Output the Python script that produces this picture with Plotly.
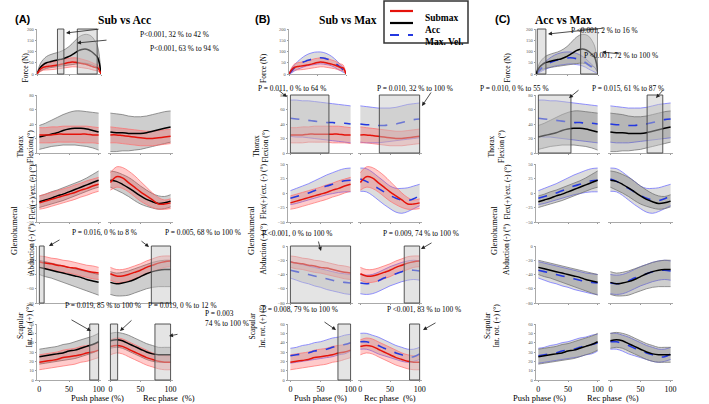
import plotly.graph_objects as go

# percent of phase
PCT = list(range(0, 101, 10))
PCT_F = list(range(0, 101, 5))

# each series: (mean, upper SD, lower SD)
# --- force (N), push phase only
FORCE_SUB = ([0, 20, 30, 33, 35, 37, 39, 41, 44, 48, 51, 53, 52, 50, 47, 44, 40, 35, 30, 27, 0],
             [0, 30, 45, 50, 52, 54, 56, 60, 64, 68, 70, 72, 72, 70, 66, 62, 58, 52, 45, 40, 0],
             [0, 10, 17, 18, 19, 20, 22, 24, 26, 28, 30, 32, 32, 30, 28, 26, 24, 20, 16, 14, 0])
FORCE_ACC = ([0, 28, 42, 50, 54, 58, 61, 64, 67, 72, 78, 86, 95, 104, 109, 111, 108, 100, 88, 72, 0],
             [0, 45, 65, 78, 85, 90, 94, 98, 104, 112, 122, 135, 150, 163, 172, 176, 175, 168, 150, 120, 0],
             [0, 12, 20, 25, 28, 30, 32, 34, 36, 38, 40, 42, 44, 46, 48, 48, 46, 42, 36, 28, 0])
FORCE_MAX = ([0, 15, 28, 38, 46, 53, 58, 62, 66, 69, 71, 72, 71, 68, 64, 58, 50, 40, 30, 18, 5],
             [0, 25, 42, 55, 66, 76, 84, 90, 94, 97, 98, 98, 96, 92, 86, 78, 68, 56, 42, 28, 8],
             [0, 6, 14, 21, 26, 31, 35, 38, 40, 42, 44, 45, 44, 42, 40, 36, 30, 22, 15, 8, 2])

# --- thorax flexion (deg)
THX_SUB_PUSH = ([25, 25, 25, 26, 26, 26, 26, 26, 26, 25, 25],
                [35, 35, 36, 36, 37, 37, 37, 37, 37, 36, 35],
                [14, 14, 14, 15, 15, 15, 15, 14, 14, 14, 13])
THX_SUB_REC = ([25, 25, 24, 23, 22, 21, 20, 20, 21, 22, 23],
               [36, 35, 34, 33, 32, 31, 30, 30, 31, 32, 33],
               [14, 14, 13, 12, 11, 10, 10, 10, 11, 12, 13])
THX_ACC_PUSH = ([22, 24, 26, 28, 31, 33, 34, 34, 33, 31, 29],
                [38, 41, 45, 49, 53, 56, 58, 58, 57, 56, 55],
                [5, 7, 9, 10, 11, 11, 11, 10, 9, 7, 4])
THX_ACC_REC = ([29, 28, 28, 27, 27, 27, 28, 30, 32, 34, 36],
               [55, 54, 53, 51, 50, 50, 51, 53, 55, 57, 58],
               [2, 2, 3, 3, 4, 5, 7, 9, 11, 13, 15])
THX_MAX_PUSH = ([48, 47, 46, 45, 44, 43, 42, 42, 41, 41, 40],
                [73, 73, 72, 72, 71, 70, 69, 68, 67, 66, 65],
                [23, 22, 22, 21, 20, 19, 18, 17, 16, 15, 14])
THX_MAX_REC = ([40, 39, 39, 38, 38, 39, 40, 42, 44, 46, 47],
               [65, 64, 63, 62, 62, 62, 63, 65, 67, 68, 69],
               [15, 14, 14, 14, 15, 16, 17, 18, 19, 20, 21])

# --- glenohumeral flexion(+)/extension(-) (deg)
FLX_SUB_PUSH = ([-17, -14, -11, -8, -5, -2, 1, 5, 8, 12, 15],
                [-5, -2, 1, 4, 7, 10, 14, 17, 21, 24, 27],
                [-28, -26, -23, -20, -17, -14, -11, -7, -4, 0, 3])
FLX_SUB_REC = ([18, 28, 26, 18, 10, 2, -5, -12, -19, -19, -17],
               [35, 45, 44, 38, 30, 20, 10, 0, -8, -12, -10],
               [5, 10, 8, 2, -6, -14, -20, -25, -28, -28, -27])
FLX_ACC_PUSH = ([-15, -12, -9, -5, -2, 2, 6, 10, 14, 18, 22],
                [-5, -2, 2, 5, 9, 13, 17, 21, 26, 32, 38],
                [-25, -22, -19, -16, -13, -9, -5, -1, 3, 7, 10])
FLX_ACC_REC = ([22, 20, 15, 9, 2, -5, -11, -15, -18, -17, -14],
               [38, 36, 32, 27, 20, 12, 5, -1, -5, -6, -3],
               [10, 5, 0, -6, -13, -19, -23, -26, -28, -27, -24])
FLX_MAX_PUSH = ([-9, -6, -3, 0, 4, 8, 12, 15, 18, 21, 22],
                [4, 8, 12, 16, 21, 26, 31, 35, 39, 42, 43],
                [-20, -18, -15, -12, -9, -6, -3, -1, 1, 2, 2])
FLX_MAX_REC = ([24, 20, 14, 8, 2, -4, -9, -12, -13, -10, -4],
               [43, 42, 36, 28, 20, 12, 8, 8, 9, 12, 15],
               [3, 2, -4, -12, -20, -27, -33, -35, -32, -27, -22])

# --- glenohumeral abduction(-) (deg)
ABD_SUB_PUSH = ([-22, -24, -25, -27, -28, -30, -31, -33, -35, -37, -38],
                [-14, -15, -17, -18, -20, -21, -23, -25, -27, -28, -30],
                [-30, -32, -33, -35, -37, -38, -40, -42, -44, -46, -47])
ABD_SUB_REC = ([-39, -42, -42, -40, -37, -34, -30, -27, -24, -22, -21],
               [-30, -33, -33, -31, -28, -25, -21, -18, -15, -14, -14],
               [-48, -51, -51, -49, -46, -43, -39, -36, -33, -30, -29])
ABD_ACC_PUSH = ([-30, -32, -34, -36, -38, -40, -42, -44, -47, -49, -51],
                [-20, -22, -24, -26, -28, -30, -32, -34, -36, -38, -40],
                [-40, -43, -45, -48, -51, -54, -57, -60, -63, -66, -69])
ABD_ACC_REC = ([-51, -53, -52, -50, -47, -43, -39, -36, -34, -33, -33],
               [-36, -38, -37, -35, -32, -29, -26, -23, -21, -20, -20],
               [-68, -70, -70, -69, -66, -63, -60, -58, -57, -57, -57])
ABD_MAX_PUSH = ([-34, -36, -38, -40, -42, -44, -46, -48, -50, -51, -52],
                [-22, -24, -26, -28, -30, -32, -34, -36, -38, -39, -40],
                [-45, -48, -51, -53, -56, -58, -61, -63, -65, -67, -68])
ABD_MAX_REC = ([-52, -53, -52, -49, -45, -42, -39, -36, -34, -34, -35],
               [-40, -41, -40, -37, -33, -29, -26, -23, -21, -20, -21],
               [-67, -68, -67, -64, -60, -56, -53, -50, -48, -47, -48])

# --- scapular internal rotation(+) (deg)
SCP_SUB_PUSH = ([19, 20, 21, 22, 24, 25, 26, 27, 29, 30, 32],
                [27, 28, 29, 30, 32, 33, 34, 36, 37, 38, 40],
                [11, 12, 13, 14, 15, 16, 17, 19, 20, 22, 24])
SCP_SUB_REC = ([36, 37, 36, 33, 30, 27, 24, 22, 20, 19, 19],
               [43, 45, 44, 41, 38, 35, 32, 29, 27, 26, 26],
               [27, 29, 28, 25, 22, 19, 16, 14, 12, 11, 11])
SCP_ACC_PUSH = ([25, 26, 27, 28, 29, 31, 32, 34, 36, 38, 41],
                [33, 34, 35, 36, 38, 39, 41, 43, 45, 47, 50],
                [17, 18, 19, 20, 21, 22, 23, 25, 27, 29, 32])
SCP_ACC_REC = ([42, 43, 42, 39, 36, 33, 30, 28, 27, 27, 27],
               [50, 51, 50, 48, 45, 42, 39, 37, 35, 35, 35],
               [34, 35, 34, 31, 28, 25, 22, 20, 19, 19, 19])
SCP_MAX_PUSH = ([26, 27, 28, 29, 31, 32, 33, 35, 37, 38, 40],
                [34, 35, 37, 38, 40, 41, 43, 45, 46, 48, 49],
                [18, 19, 20, 21, 22, 23, 24, 25, 27, 28, 31])
SCP_MAX_REC = ([41, 41, 39, 37, 34, 32, 29, 27, 25, 25, 28],
               [50, 50, 48, 46, 43, 40, 37, 35, 33, 33, 35],
               [33, 33, 31, 28, 26, 24, 22, 20, 19, 20, 22])

SERIES = {
    ('force', 'sub', 'push'): FORCE_SUB, ('force', 'acc', 'push'): FORCE_ACC,
    ('force', 'max', 'push'): FORCE_MAX,
    ('thx', 'sub', 'push'): THX_SUB_PUSH, ('thx', 'sub', 'rec'): THX_SUB_REC,
    ('thx', 'acc', 'push'): THX_ACC_PUSH, ('thx', 'acc', 'rec'): THX_ACC_REC,
    ('thx', 'max', 'push'): THX_MAX_PUSH, ('thx', 'max', 'rec'): THX_MAX_REC,
    ('flex', 'sub', 'push'): FLX_SUB_PUSH, ('flex', 'sub', 'rec'): FLX_SUB_REC,
    ('flex', 'acc', 'push'): FLX_ACC_PUSH, ('flex', 'acc', 'rec'): FLX_ACC_REC,
    ('flex', 'max', 'push'): FLX_MAX_PUSH, ('flex', 'max', 'rec'): FLX_MAX_REC,
    ('abd', 'sub', 'push'): ABD_SUB_PUSH, ('abd', 'sub', 'rec'): ABD_SUB_REC,
    ('abd', 'acc', 'push'): ABD_ACC_PUSH, ('abd', 'acc', 'rec'): ABD_ACC_REC,
    ('abd', 'max', 'push'): ABD_MAX_PUSH, ('abd', 'max', 'rec'): ABD_MAX_REC,
    ('scap', 'sub', 'push'): SCP_SUB_PUSH, ('scap', 'sub', 'rec'): SCP_SUB_REC,
    ('scap', 'acc', 'push'): SCP_ACC_PUSH, ('scap', 'acc', 'rec'): SCP_ACC_REC,
    ('scap', 'max', 'push'): SCP_MAX_PUSH, ('scap', 'max', 'rec'): SCP_MAX_REC,
}

# significant regions (SPM): panel, variable, phase, start %, end %
SIG = [
    ('A', 'force', 'push', 32, 42), ('A', 'force', 'push', 63, 94),
    ('A', 'abd', 'push', 0, 8), ('A', 'abd', 'rec', 68, 100),
    ('A', 'scap', 'push', 85, 100), ('A', 'scap', 'rec', 0, 12), ('A', 'scap', 'rec', 74, 100),
    ('B', 'thx', 'push', 0, 64), ('B', 'thx', 'rec', 32, 100),
    ('B', 'abd', 'push', 0, 100), ('B', 'abd', 'rec', 74, 100),
    ('B', 'scap', 'push', 79, 100), ('B', 'scap', 'rec', 83, 100),
    ('C', 'force', 'push', 2, 16), ('C', 'force', 'push', 72, 100),
    ('C', 'thx', 'push', 0, 55), ('C', 'thx', 'rec', 61, 87),
]

# p-value labels: text, text centre (px), arrow tail (px), arrow head (px)
PLABELS = [
    ('P<0.001, 32 % to 42 %', (138, 28), (100, 29), (66, 33)),
    ('P<0.001, 63 % to 94 %', (148, 42), (108, 40), (77, 43)),
    ('P = 0.016, 0 % to 8 %', (70, 233), (61, 239), (49, 246)),
    ('P = 0.005, 68 % to 100 %', (163, 233), (140, 240), (149, 247)),
    ('P = 0.019, 85 % to 100 %', (63, 312), (70, 319), (91, 331)),
    ('P = 0.019, 0 % to 12 %', (146, 312), (133, 319), (120, 331)),
    ('P = 0.003<br>74 % to 100 %', (203, 330), (179, 334), (169, 336)),
    ('P = 0.011, 0 % to 64 %', (292, 82), (277, 89), (287, 97)),
    ('P = 0.010, 32 % to 100 %', (415, 82), (432, 91), (422, 106)),
    ('P <0.001, 0 % to 100 %', (297, 234), (318, 240), (321, 251)),
    ('P = 0.009, 74 % to 100 %', (421, 234), (433, 242), (421, 249)),
    ('P = 0.008, 79 % to 100 %', (300, 316), (323, 321), (336, 330)),
    ('P <0.001, 83 % to 100 %', (424, 316), (437, 322), (423, 330)),
    ('P <0.001, 2 % to 16 %', (640, 24), (605, 28), (548, 34)),
    ('P <0.001, 72 % to 100 %', (660, 49), (621, 54), (602, 52)),
    ('P = 0.010, 0 % to 55 %', (551, 82), (580, 89), (569, 98)),
    ('P = 0.015, 61 % to 87 %', (666, 82), (664, 89), (656, 98)),
]

W, H = 709, 404
SERIF = 'Liberation Serif'


def px(x, y):
    return x / W, 1 - y / H


ROWS = {
    'force': dict(top=29, bot=74, rng=[0, 200], dt=50),
    'thx': dict(top=95, bot=153, rng=[0, 80], dt=20),
    'flex': dict(top=164, bot=222, rng=[-50, 50], dt=25),
    'abd': dict(top=246, bot=303, rng=[-80, 0], dt=20),
    'scap': dict(top=324, bot=380, rng=[0, 60], dt=10),
}
XRANGE = [-4, 104]

PANELS = [
    dict(key='A', title='Sub vs Acc', groups=['acc', 'sub'], tag_x=13, title_x=96,
         push=(37, 101), rec=(108, 173), force=(37, 101),
         lab_x=dict(force=18, thx=14, flex=25, glen=7, abd=25, scap=13)),
    dict(key='B', title='Sub vs Max', groups=['max', 'sub'], tag_x=263, title_x=348,
         push=(288, 353), rec=(358, 422), force=(289, 346),
         lab_x=dict(force=263, thx=261, flex=263, glen=251, abd=263, scap=257)),
    dict(key='C', title='Acc vs Max', groups=['max', 'acc'], tag_x=513, title_x=594,
         push=(536, 600), rec=(608, 673), force=(536, 598),
         lab_x=dict(force=513, thx=508, flex=513, glen=501, abd=513, scap=503)),
]

STYLE = {
    'sub': dict(line=dict(color='#e5130b', width=1.5), fill='rgba(255,70,70,0.28)',
                edge='rgba(255,110,110,0.9)'),
    'acc': dict(line=dict(color='black', width=1.5), fill='rgba(105,105,105,0.33)',
                edge='rgba(110,110,110,0.9)'),
    'max': dict(line=dict(color='#2438e0', width=1.6, dash='dash'), fill='rgba(140,140,140,0.30)',
                edge='rgba(110,110,255,0.95)'),
}
LEGEND = [('sub', 'Submax', 11), ('acc', 'Acc', 23), ('max', 'Max. Vel.', 35)]

LABELS = {
    'force': ('Force (N)', 51),
    'thx': ('Thorax<br>Flexion (°)', 128),
    'flex': ('Flex(+)/ext. (-) (°)', 192),
    'glen': ('Glenohumeral', 231),
    'abd': ('Abduction (-) (°)', 277),
    'scap': ('Scapular<br>Int. rot. (+) (°)', 350),
}

fig = go.Figure()
layout = {}
shapes, annots = [], []
axis_of = {}
n = 0

for p in PANELS:
    for var, row in ROWS.items():
        phases = ['push'] if var == 'force' else ['push', 'rec']
        for ph in phases:
            n += 1
            xa, ya = ('x', 'y') if n == 1 else (f'x{n}', f'y{n}')
            xl = p['force'] if var == 'force' else p[ph]
            axis_of[(p['key'], var, ph)] = (xa, ya)
            bottom = var == 'scap'
            layout['xaxis' if n == 1 else f'xaxis{n}'] = dict(
                domain=[xl[0] / W, xl[1] / W], anchor=ya,
                range=[0, 100] if var == 'force' else XRANGE,
                tickvals=[0, 50, 100], showticklabels=bottom,
                tickfont=dict(family=SERIF, size=8, color='black'),
                ticks='outside', ticklen=1.5, tickcolor='#999',
                showline=True, linecolor='#aaa', linewidth=0.8, automargin=False,
                showgrid=False, zeroline=False, fixedrange=True)
            ticks = list(range(row['rng'][0], row['rng'][1] + 1, row['dt']))
            layout['yaxis' if n == 1 else f'yaxis{n}'] = dict(
                domain=[1 - row['bot'] / H, 1 - row['top'] / H], anchor=xa,
                range=row['rng'], tickvals=ticks, showticklabels=(ph == 'push'),
                tickfont=dict(family=SERIF, size=4.5, color='#555'),
                ticks='outside' if ph == 'push' else '', ticklen=1.5, tickcolor='#999',
                showline=(ph == 'push'), linecolor='#aaa', linewidth=0.8, automargin=False,
                showgrid=False, zeroline=False, fixedrange=True)
            x = PCT_F if var == 'force' else PCT
            # SD bands
            for g in p['groups']:
                mean, hi, lo = SERIES[(var, g, ph)]
                st = STYLE[g]
                fig.add_trace(go.Scatter(x=x, y=hi, mode='lines', xaxis=xa, yaxis=ya,
                                         line=dict(color=st['edge'], width=0.8, shape='spline'),
                                         showlegend=False, hoverinfo='skip'))
                fig.add_trace(go.Scatter(x=x, y=lo, mode='lines', xaxis=xa, yaxis=ya,
                                         fill='tonexty', fillcolor=st['fill'],
                                         line=dict(color=st['edge'], width=0.8, shape='spline'),
                                         showlegend=False, hoverinfo='skip'))
            # means
            for g in p['groups']:
                mean = SERIES[(var, g, ph)][0]
                fig.add_trace(go.Scatter(x=x, y=mean, mode='lines', xaxis=xa, yaxis=ya,
                                         line=dict(shape='spline', **STYLE[g]['line']),
                                         showlegend=False))

    # panel tag and title
    tx, ty = px(p['tag_x'], 11)
    annots.append(dict(x=tx, y=ty, xref='paper', yref='paper', text='<b>(%s)</b>' % p['key'],
                       showarrow=False, font=dict(family='Liberation Sans', size=11, color='black')))
    tx, ty = px(p['title_x'], 12)
    annots.append(dict(x=tx, y=ty, xref='paper', yref='paper', text='<b>%s</b>' % p['title'],
                       showarrow=False, font=dict(family=SERIF, size=11.5, color='black')))
    # y labels
    for k, (txt, yc) in LABELS.items():
        lx, ly = px(p['lab_x'][k], yc)
        annots.append(dict(x=lx, y=ly, xref='paper', yref='paper', text=txt, textangle=-90,
                           showarrow=False,
                           font=dict(family=SERIF, size=8.5 if k == 'glen' else 7.5, color='black')))
    # x titles
    for ph, txt in (('push', 'Push phase (%)'), ('rec', 'Rec phase  (%)')):
        lx, ly = px((p[ph][0] + p[ph][1]) / 2, 404)
        annots.append(dict(x=lx, y=ly, xref='paper', yref='paper', text=txt, showarrow=False,
                           yanchor='bottom', yshift=-1,
                           font=dict(family=SERIF, size=8.5, color='black')))

# significance boxes
for key, var, ph, x0, x1 in SIG:
    xa, ya = axis_of[(key, var, ph)]
    shapes.append(dict(type='rect', xref=xa, yref=ya + ' domain', x0=x0, x1=x1, y0=0, y1=1,
                       fillcolor='rgba(195,195,195,0.45)', line=dict(color='#444', width=0.9),
                       layer='above'))

# p-value texts and arrows
for txt, (cx, cy), (ax0, ay0), (hx, hy) in PLABELS:
    lx, ly = px(cx, cy)
    annots.append(dict(x=lx, y=ly, xref='paper', yref='paper', text=txt, showarrow=False,
                       align='left', font=dict(family=SERIF, size=7.4, color='black')))
    hxp, hyp = px(hx, hy)
    annots.append(dict(x=hxp, y=hyp, xref='paper', yref='paper', text='', showarrow=True,
                       ax=ax0 - hx, ay=ay0 - hy, arrowhead=2, arrowsize=1, arrowwidth=0.8,
                       arrowcolor='#222'))

# legend box, drawn by hand to match the compact boxed key
x0, y0 = px(384, 1)
x1, y1 = px(468, 43)
shapes.append(dict(type='rect', xref='paper', yref='paper', x0=x0, x1=x1, y0=y1, y1=y0,
                   fillcolor='white', line=dict(color='#333', width=1.5), layer='above'))
for g, name, ly in LEGEND:
    a, b = px(390, ly)
    c, _ = px(413, ly)
    st = STYLE[g]['line']
    shapes.append(dict(type='line', xref='paper', yref='paper', x0=a, x1=c, y0=b, y1=b,
                       line=dict(color=st['color'], width=2.2, dash=st.get('dash', 'solid')),
                       layer='above'))
    tx, _ = px(423, ly)
    annots.append(dict(x=tx, y=b, xref='paper', yref='paper', text='<b>%s</b>' % name,
                       xanchor='left', showarrow=False,
                       font=dict(family=SERIF, size=9.5, color='black')))

fig.update_layout(
    width=W, height=H, margin=dict(l=0, r=0, t=0, b=0, autoexpand=False),
    template='none',
    paper_bgcolor='white', plot_bgcolor='white',
    font=dict(family=SERIF), showlegend=False,
    shapes=shapes, annotations=annots,
    **layout,
)

# the page body has a default 8px margin; drop it so the figure sits at the corner
fig.write_html("out.html", config={'displayModeBar': False},
               post_script="document.body.style.margin='0';")
